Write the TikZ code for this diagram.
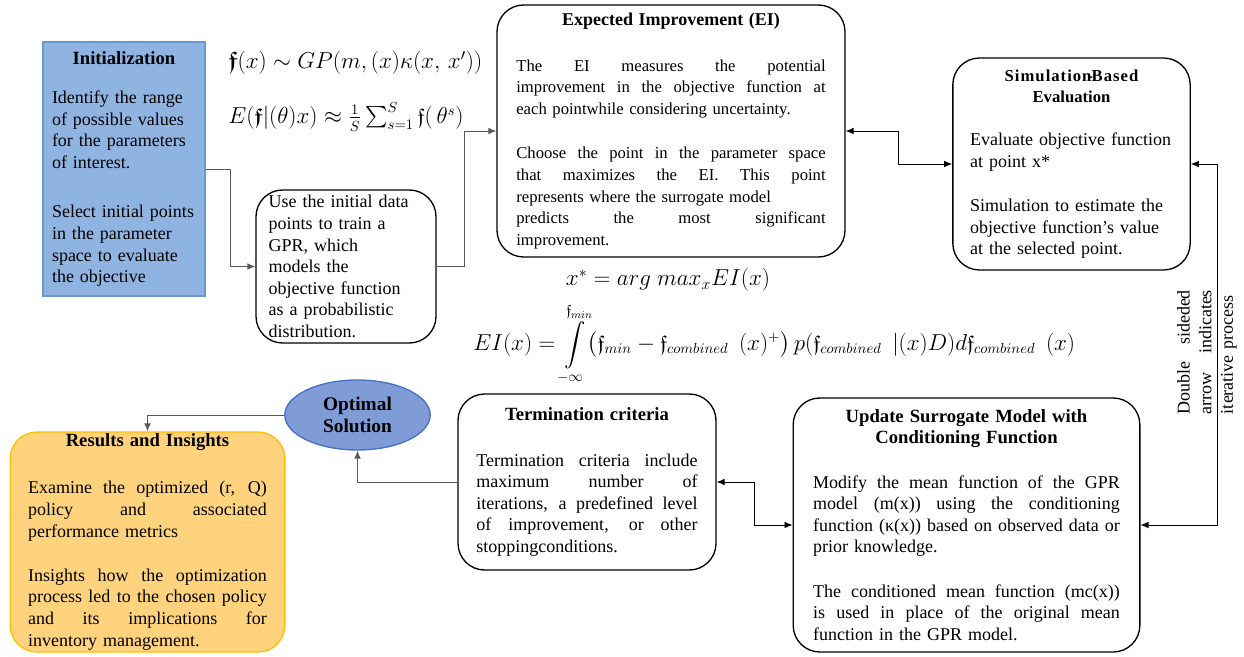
\documentclass[tikz,border=0pt]{standalone}
\usepackage{fontspec}
\setmainfont{Liberation Serif}
\usepackage{amsmath,amssymb}
\usetikzlibrary{shapes.geometric, arrows.meta}

\definecolor{initblue}{RGB}{143,180,226}
\definecolor{initedge}{RGB}{108,152,210}
\definecolor{optblue}{RGB}{128,156,215}
\definecolor{optedge}{RGB}{68,114,196}
\definecolor{resgold}{RGB}{255,211,125}
\definecolor{resedge}{RGB}{255,192,0}

\newcommand{\jl}[1]{\makebox[\hsize][s]{\spaceskip=.25em plus 1fil\relax #1}}
\newcommand{\lft}[1]{\makebox[\hsize][l]{#1}}

\begin{document}
\begin{tikzpicture}[x=0.75pt, y=-0.75pt,
box/.style = {draw, line width=1pt, rounded corners=20pt, align=center, inner sep=0pt, font=\fontsize{13.5}{16.2}\selectfont},
conn/.style = {draw=black!65, line width=0.7pt, -{Latex[length=6pt, width=5pt]}},
twoway/.style = {draw=black, line width=0.7pt, {Latex[length=6pt, width=5pt]}-{Latex[length=6pt, width=5pt]}},
formula/.style = {inner sep=0pt, font=\fontsize{16}{18}\selectfont}
]
\useasboundingbox (0,0) rectangle (1244,656);

\node (init) at (124,169) [box, rounded corners=0pt, fill=initblue, draw=initedge,
  minimum width=121.5pt, minimum height=190.5pt, text width=108pt] {%
  {\fontsize{14}{16.2}\selectfont\bfseries Initialization}\\[13pt]
  \lft{Identify the range}\\
  \lft{of possible values}\\
  \lft{for the parameters}\\
  \lft{of interest.}\\[21pt]
  \lft{Select initial points}\\
  \lft{in the parameter}\\
  \lft{space to evaluate}\\
  \lft{the objective}};

\node (gp) at (228,63) [formula, anchor=west, font=\fontsize{18}{20}\selectfont]
  {$\boldsymbol{\mathfrak{f}}(x)\sim GP(m,(x)\kappa(x,\,x'))$};
\node (ef) at (228,117) [formula, anchor=west]
  {$E(\boldsymbol{\mathfrak{f}}|(\theta)x)\approx\frac{1}{S}\sum_{s=1}^{S}\mathfrak{f}(\,\theta^{s})$};

\node (gpr) at (346,266.5) [box, minimum width=135pt, minimum height=114.75pt, text width=116pt] {%
  \lft{Use the initial data}\\
  \lft{points to train a}\\
  \lft{GPR, which}\\
  \lft{models the}\\
  \lft{objective function}\\
  \lft{as a probabilistic}\\
  \lft{distribution.}};

\node (ei) at (671,131) [box, font=\fontsize{12.5}{16.2}\selectfont,
  minimum width=261pt, minimum height=189pt, text width=232pt] {%
  {\fontsize{13.5}{16.2}\selectfont\bfseries Expected Improvement (EI)}\\[18pt]
  \jl{The EI measures the potential}\\
  \jl{improvement in the objective function at}\\
  \lft{each pointwhile considering uncertainty.}\\[17pt]
  \jl{Choose the point in the parameter space}\\
  \jl{that maximizes the EI. This point}\\
  \lft{represents where the surrogate model}\\
  \jl{predicts the most significant}\\
  \lft{improvement.}};

\node (sim) at (1071.5,164) [box, minimum width=178pt, minimum height=159pt, text width=152pt] {%
  {\fontsize{12.5}{16.2}\selectfont\bfseries\addfontfeature{LetterSpace=6}Simulation\kern-3pt-\kern-1ptBased}\\
  {\fontsize{12.5}{16.2}\selectfont\bfseries Evaluation}\\[16pt]
  \lft{Evaluate objective function}\\
  \lft{at point x*}\\[17pt]
  \lft{Simulation to estimate the}\\
  \lft{objective function's value}\\
  \lft{at the selected point.}};

\node (xstar) at (668,280) [formula, font=\fontsize{18}{20}\selectfont] {$x^{*}=arg\ max_{x}EI(x)$};
\node (eiint) at (473,344) [formula, anchor=west]
  {$EI(x)=\displaystyle\int\limits_{-\infty}^{\mathfrak{f}_{min}}\bigl(\mathfrak{f}_{min}-\mathfrak{f}_{combined}\ \ (x)^{+}\bigr)\,p(\mathfrak{f}_{combined}\ \ |(x)D)d\mathfrak{f}_{combined}\ \ (x)$};

\node (opt) at (357.5,415) [ellipse, draw=optedge, line width=1pt, fill=optblue, inner sep=0pt,
  minimum width=109pt, minimum height=52.5pt, align=center, font=\fontsize{14.5}{17}\selectfont\bfseries]
  {Optimal\\Solution};

\node (res) at (147.5,542) [box, fill=resgold, draw=resedge, minimum width=206pt, minimum height=165pt, text width=179pt] {%
  {\fontsize{14}{16.2}\selectfont\bfseries Results and Insights}\\[19pt]
  \jl{Examine the optimized (r, Q)}\\
  \jl{policy and associated}\\
  \lft{performance metrics}\\[17pt]
  \jl{Insights how the optimization}\\
  \jl{process led to the chosen policy}\\
  \jl{and its implications for}\\
  \lft{inventory management.}};

\node (term) at (587,482) [box, minimum width=193.5pt, minimum height=132pt, text width=166pt] {%
  {\fontsize{14}{16.2}\selectfont\bfseries Termination criteria}\\[18pt]
  \jl{Termination criteria include}\\
  \jl{maximum number of}\\
  \jl{iterations, a predefined level}\\
  \jl{of improvement, or other}\\
  \lft{stoppingconditions.}};

\node (upd) at (966.5,525) [box, minimum width=260pt, minimum height=190.5pt, text width=230pt] {%
  {\fontsize{14}{16.2}\selectfont\bfseries Update Surrogate Model with}\\
  {\fontsize{14}{16.2}\selectfont\bfseries Conditioning Function}\\[17pt]
  \jl{Modify the mean function of the GPR}\\
  \jl{model (m(x)) using the conditioning}\\
  \jl{function (κ(x)) based on observed data or}\\
  \lft{prior knowledge.}\\[17pt]
  \jl{The conditioned mean function (mc(x))}\\
  \jl{is used in place of the original mean}\\
  \lft{function in the GPR model.}};

\node (note) at (1207,352) [rotate=90, align=center, inner sep=0pt, text width=93pt,
  font=\fontsize{13.5}{16.2}\selectfont] {%
  \jl{Double sideded}\\
  \jl{arrow indicates}\\
  \lft{iterative process}};

\draw[conn] (init.east) -- ++(25,0) |- (gpr.west);
\draw[conn] (gpr.east) -- ++(28,0) |- (ei.west);
\draw[twoway] (ei.east) -- ++(53,0) |- (sim.west);
\draw[twoway] (sim.east) -- ++(27,0) |- (upd.east);
\draw[twoway] (upd.west) -- ++(-38,0) |- (term.east);
\draw[conn] (term.west) -| (opt.south);
\draw[conn] (opt.west) -| (res.north);
\end{tikzpicture}
\end{document}
